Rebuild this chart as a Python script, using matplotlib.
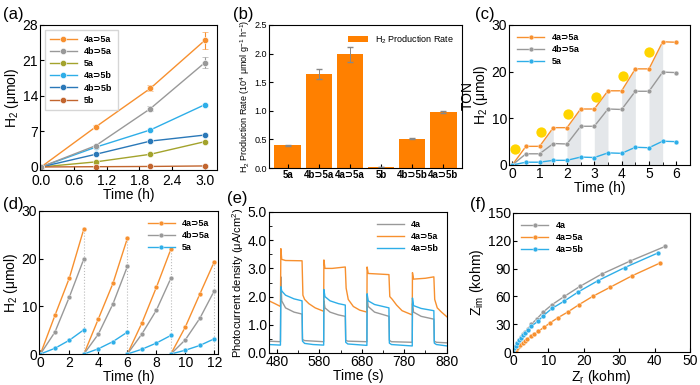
import matplotlib
matplotlib.use('Agg')
import matplotlib.pyplot as plt
import numpy as np

plt.rcParams['font.family'] = ['Liberation Sans', 'DejaVu Sans']
plt.rcParams['mathtext.fontset'] = 'custom'
plt.rcParams['mathtext.rm'] = 'Liberation Sans'
plt.rcParams['xtick.direction'] = 'in'
plt.rcParams['ytick.direction'] = 'in'
plt.rcParams['axes.linewidth'] = 0.8

ORANGE = '#f7902f'
GRAY = '#999999'
OLIVE = '#a3a32c'
LBLUE = '#2eaee8'
DBLUE = '#2a78b8'
BROWN = '#c2652e'
BAR = '#ff8000'

# ---------------- (a) H2 evolution vs time ----------------
a_time = [0, 1, 2, 3]
a_4a5a = [0, 7.9, 15.5, 25.0]
a_4a5a_err = [0, 0.3, 0.6, 1.7]
a_4b5a = [0, 4.2, 11.5, 20.6]
a_4b5a_err = [0, 0.2, 0.5, 1.0]
a_5a = [0, 1.0, 2.5, 5.0]
a_4a5b = [0, 3.9, 7.3, 12.3]
a_4b5b = [0, 2.5, 5.1, 6.3]
a_5b = [0, 0.05, 0.1, 0.2]

# ---------------- (b) production rate ----------------
b_names = ['5a', '4b⊃5a', '4a⊃5a', '5b', '4b⊃5b', '4a⊃5b']
b_rate = [0.40, 1.64, 1.99, 0.02, 0.51, 0.98]
b_err = [0.01, 0.09, 0.13, 0.005, 0.01, 0.01]

# ---------------- (c) TON cycles ----------------
c_time = [0, 0.5, 1, 1.5, 2, 2.5, 3, 3.5, 4, 4.5, 5, 5.5, 6]
c_4a5a = [0, 4.0, 4.0, 8.0, 8.0, 12.0, 12.0, 15.9, 15.9, 20.6, 20.6, 26.4, 26.3]
c_4b5a = [0, 2.4, 2.4, 4.6, 4.5, 8.3, 8.3, 12.0, 11.9, 15.8, 15.8, 19.9, 19.8]
c_5a = [0, 0.6, 0.6, 1.0, 1.0, 1.7, 1.6, 2.6, 2.5, 3.8, 3.7, 5.1, 5.0]
c_sun_x = [0.1, 1.05, 2.05, 3.05, 4.05, 5.0]
c_sun_y = [3.5, 7.1, 11.0, 14.5, 19.0, 24.3]
c_shade = [(1, 1.5), (2, 2.5), (3, 3.5), (4, 4.5), (5, 5.5)]

# ---------------- (d) recycling ----------------
d_time = [0, 1, 2, 3, 3, 4, 5, 6, 6, 7, 8, 9, 9, 10, 11, 12]
d_4a5a = [0, 8.1, 16.0, 26.3, 0, 7.4, 14.8, 24.3, 0, 6.5, 14.0, 22.0, 0, 5.7, 12.6, 19.4]
d_4b5a = [0, 4.6, 12.0, 20.0, 0, 4.2, 10.5, 18.4, 0, 4.2, 9.2, 15.9, 0, 3.0, 7.5, 13.3]
d_5a = [0, 1.2, 2.9, 5.1, 0, 1.1, 2.6, 4.6, 0, 1.0, 2.3, 3.9, 0, 0.8, 1.8, 3.2]

# ---------------- (e) photocurrent ----------------
e_t_4a5a = [461, 475, 488, 489, 491, 500, 539, 541, 545, 555, 570, 590,
            590.5, 593, 610, 641, 643, 648, 660, 675, 692,
            692.5, 695, 720, 744, 746, 752, 762, 775, 799,
            799.5, 802, 830, 850, 852, 858, 868, 881]
e_j_4a5a = [1.85, 1.75, 1.65, 3.7, 3.32, 3.28, 3.27, 2.05, 1.9, 1.75, 1.6, 1.48,
            3.3, 3.0, 3.0, 3.05, 2.3, 1.9, 1.65, 1.52, 1.45,
            3.05, 2.82, 2.8, 2.78, 2.0, 1.9, 1.7, 1.5, 1.35,
            2.85, 2.62, 2.65, 2.7, 1.9, 1.6, 1.45, 1.28]
e_t_4a5b = [461, 488, 489, 491, 500, 520, 539, 540, 545, 565, 590,
            590.5, 593, 605, 625, 641, 642, 647, 692,
            692.5, 695, 710, 744, 745, 750, 799,
            799.5, 802, 820, 850, 851, 856, 881]
e_j_4a5b = [0.3, 0.28, 2.35, 2.2, 2.05, 1.92, 1.85, 0.42, 0.34, 0.3, 0.28,
            2.25, 2.0, 1.85, 1.75, 1.7, 0.38, 0.32, 0.27,
            2.1, 1.85, 1.72, 1.6, 0.35, 0.3, 0.25,
            1.95, 1.68, 1.58, 1.5, 0.35, 0.3, 0.25]
e_t_4a = [461, 488, 489, 491, 500, 520, 539, 540, 545, 590,
          590.5, 593, 605, 625, 641, 642, 647, 692,
          692.5, 695, 710, 744, 745, 750, 799,
          799.5, 802, 820, 850, 851, 856, 881]
e_j_4a = [0.42, 0.4, 2.7, 1.85, 1.6, 1.45, 1.38, 0.48, 0.44, 0.4,
          1.85, 1.6, 1.45, 1.35, 1.3, 0.45, 0.42, 0.4,
          2.05, 1.65, 1.45, 1.3, 0.45, 0.4, 0.38,
          1.75, 1.45, 1.3, 1.2, 0.42, 0.38, 0.36]

# ---------------- (f) Nyquist ----------------
f_zr_4a = [0, 0.4, 0.8, 1.2, 1.7, 2.2, 2.8, 3.5, 4.2, 5.2, 6.8, 8.5, 11, 14.5, 19, 25, 33, 43]
f_zi_4a = [0, 4, 7, 10, 13, 16, 19, 22, 25, 30, 36, 43, 51, 60, 71, 84, 98, 114]
f_zr_4a5b = [0, 0.4, 0.8, 1.2, 1.7, 2.2, 2.8, 3.5, 4.2, 5.2, 7, 8.5, 11, 14.5, 18.5, 24, 31.5, 41]
f_zi_4a5b = [0, 4, 7, 10, 12.5, 15, 18, 20.5, 23.5, 28, 33, 39, 47, 55, 65, 77, 91, 107]
f_zr_4a5a = [0, 0.8, 1.2, 1.6, 2.1, 2.7, 3.3, 4.0, 5.0, 6.0, 7.2, 8.7, 10.5, 12.7, 15.4, 18.6, 22.5, 27.5, 33.5, 41.5]
f_zi_4a5a = [0, 2, 4, 6, 8, 10, 12, 14, 17, 19.5, 22.5, 26.5, 31.5, 37, 43, 51, 60, 70, 82, 96]

W, H = 700, 385
fig = plt.figure(figsize=(7, 3.85), dpi=100)


def box(l, r, t, b):
    return fig.add_axes([l / W, (H - b) / H, (r - l) / W, (b - t) / H])


def tidy(ax, fs=10):
    ax.tick_params(labelsize=fs, length=3, width=0.8, pad=1.5)


def label(ax, s, x, y):
    fig.text(x / W, (H - y) / H, s, fontsize=12, va='center', ha='left')


leg_kw = dict(prop={'weight': 'bold', 'size': 6.5}, handlelength=3, labelspacing=0.35)

# (a)
ax = box(40, 217, 25, 170)
mk = dict(marker='o', ms=4.5, lw=1.0, mec='white', mew=0.4)
h1 = ax.errorbar(a_time, a_4a5a, yerr=a_4a5a_err, color=ORANGE, capsize=2, elinewidth=0.8, **mk)
h2 = ax.errorbar(a_time, a_4b5a, yerr=a_4b5a_err, color=GRAY, capsize=2, elinewidth=0.8, **mk)
h3, = ax.plot(a_time, a_5a, color=OLIVE, **mk)
h4, = ax.plot(a_time, a_4a5b, color=LBLUE, **mk)
h5, = ax.plot(a_time, a_4b5b, color=DBLUE, **mk)
h6, = ax.plot(a_time, a_5b, color=BROWN, **mk)
ax.set_xlim(-0.02, 3.22)
ax.set_ylim(-0.6, 28)
ax.set_xticks([0, 0.6, 1.2, 1.8, 2.4, 3.0])
ax.set_xticklabels(['0.0', '0.6', '1.2', '1.8', '2.4', '3.0'])
ax.set_yticks([0, 7, 14, 21, 28])
ax.set_xlabel('Time (h)', fontsize=10, labelpad=0)
ax.set_ylabel('H$_2$ (μmol)', fontsize=10, labelpad=1)
ax.legend([h1[0], h2[0], h3, h4, h5, h6],
          ['4a⊃5a', '4b⊃5a', '5a', '4a⊃5b', '4b⊃5b', '5b'],
          loc='upper left', frameon=True, fancybox=False, edgecolor='#cccccc',
          borderpad=0.6, **leg_kw)
tidy(ax)
ax.tick_params(axis='x', pad=3)
label(ax, '(a)', 3, 14)

# (b)
ax = box(269, 462, 25, 168)
xs = np.arange(len(b_names))
ax.bar(xs, b_rate, width=0.85, color=BAR, yerr=b_err, ecolor='#888888',
       error_kw=dict(capsize=2, elinewidth=0.7), label='H$_2$ Production Rate')
ax.set_xlim(-0.6, 5.6)
ax.set_ylim(0, 2.5)
ax.set_xticks(xs)
ax.set_xticklabels(b_names, fontweight='bold')
ax.set_yticks([0, 0.5, 1.0, 1.5, 2.0, 2.5])
ax.set_ylabel('H$_2$ Production Rate (10$^4$ μmol g$^{-1}$ h$^{-1}$)', fontsize=6.5, labelpad=2)
ax.tick_params(axis='x', length=0)
ax.legend(loc='upper right', frameon=False, prop={'size': 6.5}, handlelength=2.2)
tidy(ax, 6.5)
ax.tick_params(axis='x', labelsize=7)
label(ax, '(b)', 233, 14)

# (c)
ax = box(509, 690, 25, 165)
for x0, x1 in c_shade:
    seg = [i for i, t in enumerate(c_time) if x0 <= t <= x1]
    ax.fill_between([c_time[i] for i in seg], 0, [c_4a5a[i] for i in seg],
                    color='#e4e7ea', lw=0, zorder=0)
mk2 = dict(marker='o', ms=3.5, lw=1.0, mec='white', mew=0.3)
ax.plot(c_time, c_4a5a, color=ORANGE, label='4a⊃5a', **mk2)
ax.plot(c_time, c_4b5a, color=GRAY, label='4b⊃5a', **mk2)
ax.plot(c_time, c_5a, color=LBLUE, label='5a', **mk2)
ax.scatter(c_sun_x, c_sun_y, s=55, color='#ffd500', zorder=3, lw=0)
ax.set_xlim(-0.12, 6.5)
ax.set_ylim(0, 30)
ax.set_xticks([0, 1, 2, 3, 4, 5, 6])
ax.set_xticks(np.arange(0.5, 6.5, 1), minor=True)
ax.set_yticks([0, 10, 20, 30])
ax.tick_params(which='minor', length=2, direction='in')
ax.set_xlabel('Time (h)', fontsize=10, labelpad=0)
ax.set_ylabel('TON\nH$_2$ (μmol)', fontsize=10, labelpad=1, linespacing=0.75)
ax.legend(loc='upper left', frameon=False, **leg_kw)
tidy(ax)
label(ax, '(c)', 475, 14)

# (d)
ax = box(39, 218, 211, 354)
for k in range(4):
    sl = slice(4 * k, 4 * k + 4)
    ax.plot(d_time[sl], d_4a5a[sl], color=ORANGE, label='4a⊃5a' if k == 0 else None, **mk2)
    ax.plot(d_time[sl], d_4b5a[sl], color=GRAY, label='4b⊃5a' if k == 0 else None, **mk2)
    ax.plot(d_time[sl], d_5a[sl], color=LBLUE, label='5a' if k == 0 else None, **mk2)
    ax.vlines(d_time[4 * k + 3], 0, d_4a5a[4 * k + 3], color='#bbbbbb', ls=':', lw=0.8, zorder=0)
ax.set_xlim(-0.1, 12.25)
ax.set_ylim(0, 30)
ax.set_xticks([0, 2, 4, 6, 8, 10, 12])
ax.set_yticks([0, 10, 20, 30])
ax.set_xlabel('Time (h)', fontsize=10, labelpad=0)
ax.set_ylabel('H$_2$ (μmol)', fontsize=10, labelpad=1)
ax.legend(loc='upper right', frameon=False, **leg_kw)
tidy(ax)
label(ax, '(d)', 3, 204)

# (e)
ax = box(269, 447, 212, 353)
ax.plot(e_t_4a, e_j_4a, color=GRAY, lw=1.0, label='4a')
ax.plot(e_t_4a5a, e_j_4a5a, color=ORANGE, lw=1.0, label='4a⊃5a')
ax.plot(e_t_4a5b, e_j_4a5b, color=LBLUE, lw=1.0, label='4a⊃5b')
ax.set_xlim(461, 881)
ax.set_ylim(0, 5)
ax.set_xticks([480, 580, 680, 780, 880])
ax.set_xticks([530, 630, 730, 830], minor=True)
ax.set_yticks([0, 1, 2, 3, 4, 5])
ax.set_yticklabels(['0.0', '1.0', '2.0', '3.0', '4.0', '5.0'])
ax.set_yticks(np.arange(0.5, 5, 1), minor=True)
ax.tick_params(which='minor', length=2, direction='in')
ax.set_xlabel('Time (s)', fontsize=10, labelpad=0)
ax.set_ylabel('Photocurrent density (μA/cm$^2$)', fontsize=8, labelpad=1)
ax.legend(loc='upper right', frameon=False, **leg_kw)
tidy(ax)
label(ax, '(e)', 227, 198)

# (f)
ax = box(513, 690, 213, 352)
mk3 = dict(marker='o', ms=3.5, lw=1.0, mec='white', mew=0.3)
ax.plot(f_zr_4a, f_zi_4a, color=GRAY, label='4a', **mk3)
ax.plot(f_zr_4a5a, f_zi_4a5a, color=ORANGE, label='4a⊃5a', **mk3)
ax.plot(f_zr_4a5b, f_zi_4a5b, color=LBLUE, label='4a⊃5b', **mk3)
ax.set_xlim(0, 50)
ax.set_ylim(0, 150)
ax.set_xticks([0, 10, 20, 30, 40, 50])
ax.set_yticks([0, 30, 60, 90, 120, 150])
ax.set_xlabel('Z$_\\mathrm{r}$ (kohm)', fontsize=10, labelpad=0)
ax.set_ylabel('Z$_\\mathrm{im}$ (kohm)', fontsize=10, labelpad=1)
ax.legend(loc='upper left', frameon=False, **leg_kw)
tidy(ax)
label(ax, '(f)', 470, 204)

fig.savefig('out.png', dpi=100)
